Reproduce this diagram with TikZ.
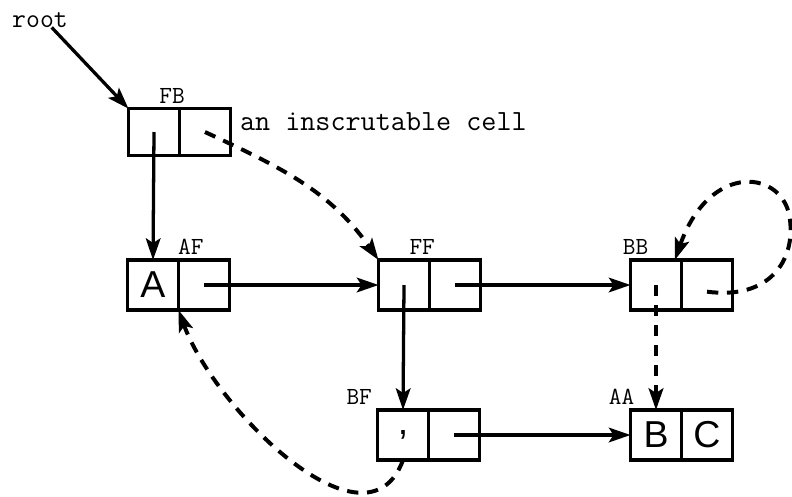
\documentclass[tikz,border=0pt]{standalone}
\usepackage{fontspec}
\setsansfont{Liberation Sans}
\usetikzlibrary{positioning, arrows.meta}

\begin{document}
\begin{tikzpicture}[
		x=0.03cm, y=-0.03cm,
		cell/.style={rectangle, draw, line width=2.8pt, minimum width=1.53cm,
			minimum height=1.5cm, inner sep=0pt, outer sep=0pt,
			font=\sffamily\fontsize{32}{32}\selectfont},
		tag/.style={anchor=south, inner sep=1pt, font=\ttfamily\fontsize{21}{23}\selectfont},
		note/.style={inner sep=0pt, font=\ttfamily\fontsize{25}{27}\selectfont},
		arr/.style={-{Stealth[length=6.5mm, width=4.4mm, inset=1.4mm]}, line width=2.8pt},
		darr/.style={arr, line width=3.4pt, dash pattern=on 3.4mm off 2.6mm}
		]
		\useasboundingbox (0,0) rectangle (792,496);

		% cells, left half placed, right half beside it
		\node[cell, minimum height=1.4cm] (fbL) at (154,132) {};
		\node[cell, minimum height=1.4cm, right=0pt of fbL] (fbR) {};
		\node[cell] (afL) at (153,285) {A};
		\node[cell, right=0pt of afL] (afR) {};
		\node[cell] (ffL) at (404,285) {};
		\node[cell, right=0pt of ffL] (ffR) {};
		\node[cell] (bbL) at (656,285) {};
		\node[cell, right=0pt of bbL] (bbR) {};
		\node[cell] (bfL) at (403,435) {,};
		\node[cell, right=0pt of bfL] (bfR) {};
		\node[cell] (aaL) at (656,435) {B};
		\node[cell, right=0pt of aaL] (aaR) {C};

		% cell names
		\node[tag] (fbTag) at ([xshift=-0.22cm, yshift=0.12cm]fbL.north east) {FB};
		\node[tag] (afTag) at ([xshift=0.37cm, yshift=0.12cm]afL.north east) {AF};
		\node[tag] (ffTag) at ([xshift=-0.22cm, yshift=0.12cm]ffL.north east) {FF};
		\node[tag] (bbTag) at ([xshift=0.15cm, yshift=0.12cm]bbL.north west) {BB};
		\node[tag] (bfTag) at ([xshift=-0.55cm, yshift=0.12cm]bfL.north west) {BF};
		\node[tag] (aaTag) at ([xshift=-0.27cm, yshift=0.12cm]aaL.north west) {AA};

		\node[note, anchor=base, font=\ttfamily\fontsize{23}{25}\selectfont] (root) at (40,27) {root};
		\node[note, anchor=base west] (inscr) at ([xshift=0.28cm, yshift=0.06cm]fbR.east)
		{an inscrutable cell};

		% pointers
		\draw[arr] ([xshift=0.35cm]root.south) -- (fbL.north west);
		\draw[arr] (fbL.center) -- (afL.north);
		\draw[arr] (afR.center) -- (ffL.west);
		\draw[arr] (ffL.center) -- (bfL.north);
		\draw[arr] (ffR.center) -- (bbL.west);
		\draw[arr] (bfR.center) -- (aaL.west);
		\draw[darr] (bbL.center) -- (aaL.north);
		\draw[darr] (fbR.center) to[out=-25, in=125] (ffL.north west);
		\draw[darr] (bfL.south) to[out=-110, in=-70] (afL.south east);
		\draw[darr] ([yshift=-0.2cm]bbR.center) .. controls (770,300) and (795,260) .. (790,220)
			.. controls (785,170) and (710,160) .. ([xshift=-0.2cm]bbL.north east);
	\end{tikzpicture}
\end{document}
